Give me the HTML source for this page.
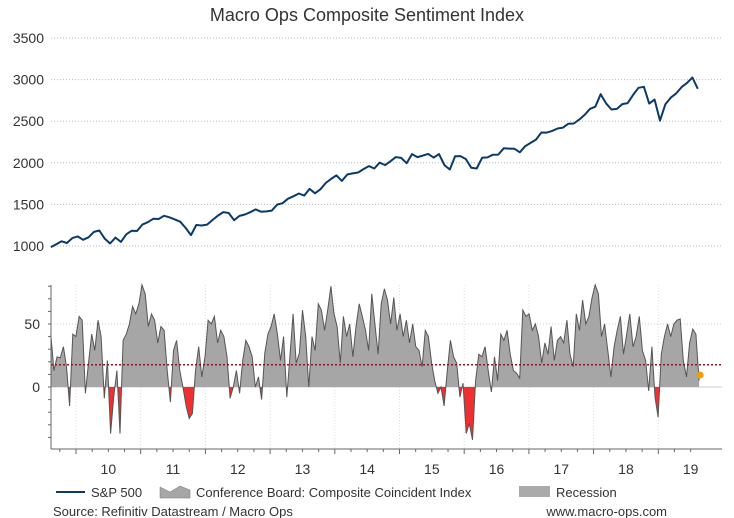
<!DOCTYPE html>
<html><head><meta charset="utf-8"><style>
body{margin:0;background:#fff;font-family:"Liberation Sans",sans-serif}
svg{display:block}
</style></head><body>
<svg id="c" width="734" height="518" viewBox="0 0 734 518" font-family="Liberation Sans, sans-serif"></svg>
<script>
// S&P 500 monthly, starting mid-2009
const spxStart = 2009.61;
const spxValues = [987,1020,1057,1036,1095,1115,1074,1104,1169,1186,1089,1030,1101,1049,1141,1183,1180,1257,
1286,1327,1325,1363,1345,1320,1292,1218,1131,1253,1246,1257,1312,1365,1408,1397,1310,1362,1379,1406,1440,1412,1416,1426,
1498,1514,1569,1597,1631,1606,1686,1633,1682,1757,1806,1848,1783,1859,1872,1884,1924,1960,1931,2003,1972,2018,2068,2059,
1995,2105,2068,2086,2107,2063,2104,1972,1920,2079,2080,2044,1940,1932,2060,2065,2097,2099,2174,2171,2168,2126,2199,2239,
2279,2364,2363,2384,2412,2423,2470,2472,2519,2575,2648,2674,2824,2714,2641,2648,2705,2718,2816,2902,2914,2712,2760,2507,
2704,2784,2834,2910,2960,3025,2890];
const spxTicks = [1000,1500,2000,2500,3000,3500];
// Composite coincident index sentiment, evenly spaced
const ciStart = 2009.61, ciEnd = 2019.63;
const ciValues = [42,13,24,23,32,16,-15,42,40,56,53,-5,19,42,29,53,40,-9,21,-37,-8,13,-37,37,42,50,64,58,66,81,74,48,58,53,35,48,45,13,-12,29,37,13,0,-15,-25,-21,13,32,8,24,53,50,56,35,45,40,24,-9,0,13,-5,21,37,32,24,0,8,-10,27,42,48,58,42,21,40,-8,24,58,19,27,61,40,0,40,29,66,61,45,61,80,58,48,19,56,40,50,24,48,66,56,45,
29,74,50,26,66,78,69,50,71,45,58,40,53,35,50,32,29,16,45,40,19,5,-5,0,-15,13,37,24,19,-8,3,-37,-29,-42,5,26,24,32,13,-4,24,5,42,37,45,26,13,11,7,61,56,58,45,50,40,19,35,26,48,21,37,40,35,53,26,16,58,45,69,50,56,71,81,74,40,50,29,8,32,45,56,26,42,58,32,40,56,29,21,-3,32,-8,-24,26,40,50,40,50,53,54,21,8,35,46,42,5];
const ciAvg = 17.7;
const ciLast = 9.5;
const ciTicks = [0,50];
const yearLabels = ['10','11','12','13','14','15','16','17','18','19'];

const NS='http://www.w3.org/2000/svg';
const svg=document.getElementById('c');
function mk(t,a,p){const e=document.createElementNS(NS,t);for(const k in a)e.setAttribute(k,a[k]);(p||svg).appendChild(e);return e;}
const L=51,R=722;
const xOf=y=>76+(y-2010)*64.7;
const yTop=v=>246-(v-1000)*0.0832;
const yBot=v=>387-v*1.26;

let t=mk('text',{x:367,y:21,'text-anchor':'middle','font-size':18,fill:'#333'});t.textContent='Macro Ops Composite Sentiment Index';



spxTicks.forEach(v=>{
 const g=mk('line',{x1:L,x2:R,y1:yTop(v),y2:yTop(v),stroke:'#bbb','stroke-dasharray':'1,2'});
 
 
 const l=mk('text',{x:44,y:yTop(v)+5,'text-anchor':'end','font-size':14,fill:'#333'});l.textContent=v;
 
 
});
let d='';spxValues.forEach((v,i)=>{d+=(i?'L':'M')+xOf(spxStart+i/12).toFixed(1)+','+yTop(v).toFixed(1);});
const sp=mk('path',{d:d,fill:'none',stroke:'#0b3a6a','stroke-width':2,'stroke-linejoin':'round'});



for(let y=2010;y<=2019;y++){
 const g=mk('line',{x1:xOf(y),x2:xOf(y),y1:285,y2:449,stroke:'#ddd','stroke-dasharray':'1,2'});
 
 
}
const g50=mk('line',{x1:L,x2:R,y1:yBot(50),y2:yBot(50),stroke:'#ccc','stroke-dasharray':'1,2'});


ciTicks.forEach(v=>{
 const l=mk('text',{x:40,y:yBot(v)+5,'text-anchor':'end','font-size':14,fill:'#333'});l.textContent=v;
 
 
});
const n=ciValues.length;const cx=i=>xOf(ciStart+(ciEnd-ciStart)*i/(n-1));
let pts=ciValues.map((v,i)=>cx(i).toFixed(1)+','+yBot(v).toFixed(1));
const area='M'+cx(0)+','+yBot(0)+'L'+pts.join('L')+'L'+cx(n-1)+','+yBot(0)+'Z';
const defs=mk('defs',{});
const c1=mk('clipPath',{id:'above'},defs);mk('rect',{x:0,y:0,width:734,height:yBot(0)},c1);
const c2=mk('clipPath',{id:'below'},defs);mk('rect',{x:0,y:yBot(0),width:734,height:200},c2);
const zl=mk('line',{x1:L,x2:R,y1:yBot(0),y2:yBot(0),stroke:'#ccc'});


const a1=mk('path',{d:area,fill:'#a6a6a6','clip-path':'url(#above)'});


const a2=mk('path',{d:area,fill:'#f03030','clip-path':'url(#below)'});


const ln=mk('path',{d:'M'+pts.join('L'),fill:'none',stroke:'#555','stroke-width':1});


const av=mk('line',{x1:L,x2:R,y1:yBot(ciAvg),y2:yBot(ciAvg),stroke:'#8b1a1a','stroke-width':1.5,'stroke-dasharray':'2,2'});


const dot=mk('circle',{cx:cx(n-1)+1,cy:yBot(ciLast),r:3.5,fill:'#f5a000'});



const ya=mk('line',{x1:L,x2:L,y1:285,y2:449,stroke:'#666'});


for(let v=-40;v<=80;v+=10){const tk=mk('line',{x1:L-3,x2:L,y1:yBot(v),y2:yBot(v),stroke:'#666'});
 
 }
const xa=mk('line',{x1:L,x2:R,y1:449,y2:449,stroke:'#666'});


for(let q=2009.75;q<2019.7;q+=0.25){const maj=Math.abs(q-Math.round(q))<0.01;
 const tk=mk('line',{x1:xOf(q),x2:xOf(q),y1:449,y2:maj?454:452,stroke:'#666'});
 
 }
yearLabels.forEach((s,i)=>{
 const l=mk('text',{x:xOf(2010.5+i),y:474,'text-anchor':'middle','font-size':14,fill:'#333'});l.textContent=s;
 
 
});

const lg=mk('g',{});


mk('line',{x1:56,x2:85,y1:492,y2:492,stroke:'#0b3a6a','stroke-width':2},lg);
let tx=mk('text',{x:91,y:497,'font-size':13,fill:'#333'},lg);tx.textContent='S&P 500';
mk('path',{d:'M160,498L160,487L170,492L180,486L190,490L190,498Z',fill:'#a6a6a6',stroke:'#777','stroke-width':0.5},lg);
tx=mk('text',{x:196,y:497,'font-size':13,fill:'#333'},lg);tx.textContent='Conference Board: Composite Coincident Index';
mk('rect',{x:519,y:486,width:31,height:11,fill:'#aaa'},lg);
tx=mk('text',{x:556,y:497,'font-size':13,fill:'#333'},lg);tx.textContent='Recession';
const s1=mk('text',{x:53,y:516,'font-size':13,fill:'#333'});s1.textContent='Source: Refinitiv Datastream / Macro Ops';


const s2=mk('text',{x:667,y:516,'text-anchor':'end','font-size':13,fill:'#333'});s2.textContent='www.macro-ops.com';


</script>
</body></html>
